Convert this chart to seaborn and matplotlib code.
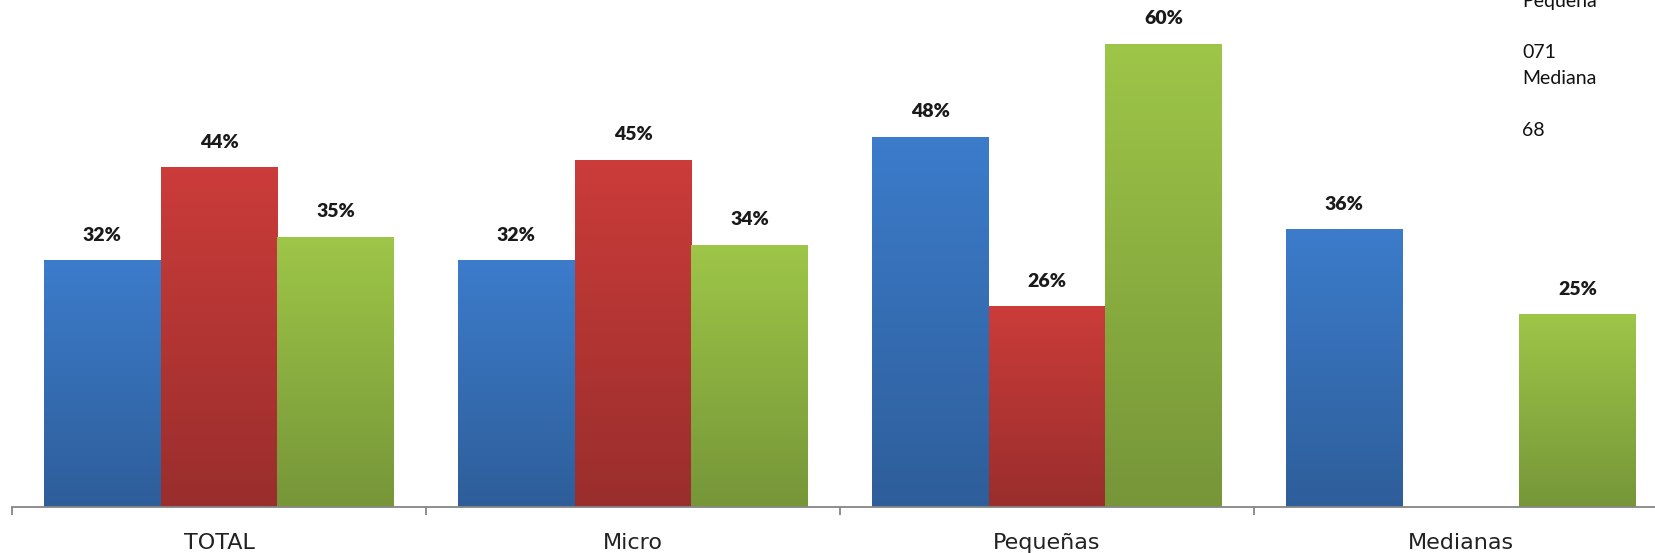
import numpy as np
import pandas as pd
import matplotlib
matplotlib.use("Agg")
import matplotlib.pyplot as plt
import matplotlib.colors as mcolors
import seaborn as sns

# ---- data ----
categories = ["TOTAL", "Micro", "Pequeñas", "Medianas"]
series_names = ["Serie 1", "Serie 2", "Serie 3"]
serie1 = [32, 32, 48, 36]
serie2 = [44, 45, 26, np.nan]
serie3 = [35, 34, 60, 25]
side_text = ["Pequeña", "", "071", "Mediana", "", "68"]

# colours (top, bottom) for the gradient
top_colors = ["#3C7CCB", "#CB3C3A", "#9EC648"]
bottom_colors = ["#2E5E9A", "#992E2C", "#769638"]

rows = []
for name, vals in zip(series_names, [serie1, serie2, serie3]):
    for c, v in zip(categories, vals):
        if not np.isnan(v):
            rows.append({"cat": c, "serie": name, "value": v})
df = pd.DataFrame(rows)

sns.set_theme(style="white")
W, H = 1655, 553
fig = plt.figure(figsize=(W / 100, H / 100), dpi=100)
fig.patch.set_facecolor("white")

axis_y = 507
left_px = 12
cat_w = 414
ax = fig.add_axes([left_px / W, (H - axis_y) / H, 4 * cat_w / W, axis_y / H])

sns.barplot(data=df, x="cat", y="value", hue="serie", order=categories,
            hue_order=series_names, palette=top_colors, width=0.845,
            saturation=1, errorbar=None, legend=False, ax=ax,
            linewidth=0, edgecolor="none")

px_per_unit = 463 / 60.0
ymax = axis_y / px_per_unit
ax.set_xlim(-0.5, 3.5)
ax.set_ylim(0, ymax)

# gradients and labels
for i, cont in enumerate(ax.containers):
    cmap = mcolors.LinearSegmentedColormap.from_list(
        f"g{i}", [bottom_colors[i], top_colors[i]])
    for p in cont.patches:
        h = p.get_height()
        if not np.isfinite(h) or h <= 0:
            continue
        x0 = p.get_x()
        w = p.get_width()
        grad = np.linspace(0, 1, 256).reshape(-1, 1)
        im = ax.imshow(grad, cmap=cmap, origin="lower", aspect="auto",
                       extent=[x0, x0 + w, 0, h], zorder=p.get_zorder() + 0.1,
                       interpolation="bilinear")
        im.set_clip_path(p)
        ax.annotate(f"{h:.0f}%", (x0 + w / 2, h), xytext=(0, 18),
                    textcoords="offset points", ha="center", va="center",
                    fontsize=14, fontweight="heavy", family=["Lato", "DejaVu Sans"],
                    color="#1a1a1a")

ax.set_xlim(-0.5, 3.5)
ax.set_ylim(0, ymax)

for s in ["top", "right", "left"]:
    ax.spines[s].set_visible(False)
ax.spines["bottom"].set_color("#868686")
ax.spines["bottom"].set_linewidth(1.3)
ax.set_yticks([])
ax.set_xlabel("")
ax.set_ylabel("")
ax.set_xticks(range(len(categories)))
ax.set_xticklabels(categories, fontsize=16, family="DejaVu Sans", color="#222222")
ax.tick_params(axis="x", which="major", length=0, pad=19)
ax.set_xticks([-0.5, 0.5, 1.5, 2.5, 3.5], minor=True)
ax.tick_params(axis="x", which="minor", length=6, width=1.3, color="#868686",
               direction="out", bottom=True)

# stray text at the top right
line_centers = [1, 27, 53, 78, 104, 130]
for t, yc in zip(side_text, line_centers):
    if t:
        fig.text(1522 / W, 1 - yc / H, t, ha="left", va="center",
                 fontsize=14, family=["Lato", "DejaVu Sans"], color="#111111")

fig.savefig("out.png", dpi=100, facecolor="white")
